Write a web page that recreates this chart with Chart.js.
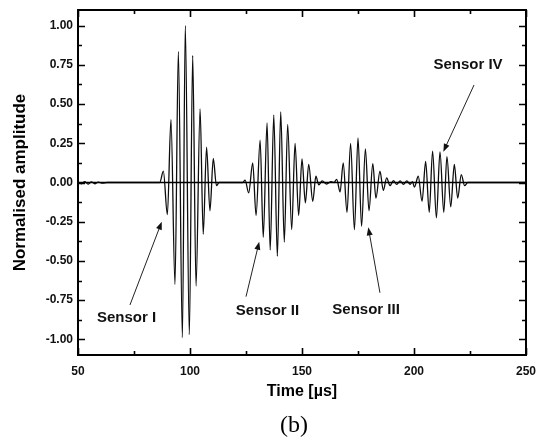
<!DOCTYPE html>
<html><head><meta charset="utf-8">
<script src="https://cdn.jsdelivr.net/npm/chart.js@4.4.0/dist/chart.umd.min.js"></script>
<style>html,body{margin:0;padding:0;background:#fff;} #wrap{width:536px;height:440px;}</style>
</head><body><div id="wrap"><canvas id="c" width="536" height="440"></canvas></div>
<script>
// Time axis (µs) of the recorded signal
const timeUs = [
  50, 51.5, 53, 54.5, 56, 57.5, 59, 61, 63,
  86.5, 88.1, 89.9, 91.5, 93.3, 94.8, 96.6, 97.9, 99.7, 101.2, 102.7, 104.5, 105.9, 107.4, 108.9, 110.4, 111.8, 113,
  123.5, 124.6, 126.2, 128.0, 129.5, 131.3, 132.7, 134.4, 135.8, 137.4, 139.0, 140.5, 142.1, 143.6, 145.4, 146.9, 148.5, 150.0, 151.5, 153.0, 154.8, 156.2, 157.5, 159, 161, 163, 164.3,
  165.5, 167.0, 168.4, 170.1, 171.7, 173.4, 175.0, 176.6, 178.3, 179.9, 181.6, 183.0, 184.8, 186.3, 187.8, 189.3, 190.8, 192.3, 193.8, 195.3, 196.8, 198.3, 199.3,
  200.2, 201.9, 203.6, 205.2, 206.8, 208.3, 210.0, 211.6, 213.3, 214.7, 216.4, 218.0, 219.5, 221.1, 222.6, 224, 250
];
// Normalised amplitude at those times
const amplitude = [
  0, -0.008, 0.006, -0.01, 0.004, -0.008, 0.003, -0.004, 0,
  0, 0.072, -0.204, 0.40, -0.65, 0.836, -0.99, 1.0, -0.97, 0.81, -0.66, 0.47, -0.33, 0.225, -0.18, 0.153, -0.02, 0,
  0, 0.015, -0.066, 0.125, -0.21, 0.27, -0.35, 0.38, -0.43, 0.43, -0.47, 0.45, -0.38, 0.37, -0.30, 0.25, -0.21, 0.15, -0.13, 0.115, -0.12, 0.04, -0.015, 0.01, -0.01, 0.006, 0,
  0.02, -0.06, 0.125, -0.19, 0.25, -0.30, 0.285, -0.28, 0.215, -0.18, 0.12, -0.10, 0.072, -0.05, 0.03, -0.02, 0.012, -0.012, 0.01, -0.012, 0.01, -0.012, 0.006,
  -0.03, 0.04, -0.12, 0.135, -0.19, 0.20, -0.225, 0.195, -0.19, 0.165, -0.155, 0.115, -0.10, 0.05, -0.02, 0, 0
];
const baselineTime = [50, 250];
const baselineAmp = [0, 0];

const xTickValues = [50, 100, 150, 200, 250];
const xMinorTickValues = [75, 125, 175, 225];
const yTickValues = [-1, -0.75, -0.5, -0.25, 0, 0.25, 0.5, 0.75, 1];
const yMinorTickValues = [-0.875, -0.625, -0.375, -0.125, 0.125, 0.375, 0.625, 0.875];

const sensorLabels = ['Sensor I', 'Sensor II', 'Sensor III', 'Sensor IV'];
const captionText = '(b)';

// annotation placement (data units): label centre, arrow tail, arrow head
const annotationLayout = [
  { label: [71.65, -0.866], from: [73.2, -0.781], to: [87.4, -0.25] },
  { label: [134.6, -0.818], from: [125.0, -0.728], to: [130.9, -0.378] },
  { label: [178.6, -0.809], from: [184.8, -0.703], to: [179.6, -0.286] },
  { label: [224.1, 0.749], from: [226.8, 0.622], to: [213.1, 0.196] }
];

const frameAndTicks = {
  id: 'frameAndTicks',
  afterDatasetsDraw(chart) {
    const { ctx, chartArea: a, scales: { x, y } } = chart;
    ctx.save();
    ctx.strokeStyle = '#000';
    ctx.lineWidth = 1.6;
    ctx.beginPath();
    const xt = (v, len) => {
      const px = Math.round(x.getPixelForValue(v)) + 0.5;
      ctx.moveTo(px, a.bottom); ctx.lineTo(px, a.bottom - len);
      ctx.moveTo(px, a.top); ctx.lineTo(px, a.top + len);
    };
    const yt = (v, len) => {
      const py = Math.round(y.getPixelForValue(v)) + 0.5;
      ctx.moveTo(a.left, py); ctx.lineTo(a.left + len, py);
      ctx.moveTo(a.right, py); ctx.lineTo(a.right - len, py);
    };
    xTickValues.forEach(v => xt(v, 7));
    xMinorTickValues.forEach(v => xt(v, 4));
    yTickValues.forEach(v => yt(v, 7));
    yMinorTickValues.forEach(v => yt(v, 4));
    ctx.stroke();
    ctx.lineWidth = 2;
    ctx.strokeRect(a.left, a.top, a.right - a.left, a.bottom - a.top);
    ctx.restore();
  },
  afterDraw(chart) {
    const { ctx, scales: { x, y } } = chart;
    ctx.save();
    ctx.fillStyle = '#111';
    ctx.strokeStyle = '#222';
    ctx.lineWidth = 1;
    ctx.font = 'bold 15px "Liberation Sans", Arial, sans-serif';
    ctx.textAlign = 'center';
    ctx.textBaseline = 'middle';
    annotationLayout.forEach((an, i) => {
      ctx.fillText(sensorLabels[i], x.getPixelForValue(an.label[0]), y.getPixelForValue(an.label[1]));
      const x1 = x.getPixelForValue(an.from[0]), y1 = y.getPixelForValue(an.from[1]);
      const x2 = x.getPixelForValue(an.to[0]), y2 = y.getPixelForValue(an.to[1]);
      const ang = Math.atan2(y2 - y1, x2 - x1);
      const hl = 8, hw = 3;
      ctx.beginPath();
      ctx.moveTo(x1, y1);
      ctx.lineTo(x2 - hl * 0.7 * Math.cos(ang), y2 - hl * 0.7 * Math.sin(ang));
      ctx.stroke();
      ctx.beginPath();
      ctx.moveTo(x2, y2);
      ctx.lineTo(x2 - hl * Math.cos(ang) + hw * Math.sin(ang), y2 - hl * Math.sin(ang) - hw * Math.cos(ang));
      ctx.lineTo(x2 - hl * Math.cos(ang) - hw * Math.sin(ang), y2 - hl * Math.sin(ang) + hw * Math.cos(ang));
      ctx.closePath();
      ctx.fill();
    });
    ctx.fillStyle = '#000';
    ctx.font = '24px "Liberation Serif", "Times New Roman", serif';
    ctx.fillText(captionText, 294, 426);
    ctx.restore();
  }
};

new Chart(document.getElementById('c'), {
  type: 'line',
  data: {
    datasets: [
      {
        label: 'Baseline',
        data: baselineTime.map((t, i) => ({ x: t, y: baselineAmp[i] })),
        borderColor: '#000',
        borderWidth: 1.4,
        pointRadius: 0
      },
      {
        label: 'Signal',
        data: timeUs.map((t, i) => ({ x: t, y: amplitude[i] })),
        borderColor: '#0d0d0d',
        borderWidth: 1.3,
        pointRadius: 0,
        cubicInterpolationMode: 'monotone'
      }
    ]
  },
  options: {
    responsive: false,
    animation: false,
    devicePixelRatio: 1,
    layout: { padding: { top: 10, right: 10, left: 0, bottom: 0 } },
    plugins: { legend: { display: false }, tooltip: { enabled: false } },
    scales: {
      x: {
        type: 'linear', min: 50, max: 250, position: 'bottom',
        afterBuildTicks: s => { s.ticks = xTickValues.map(v => ({ value: v })); },
        afterFit: s => { s.height = 85; s.paddingLeft = 0; s.paddingRight = 0; },
        grid: { display: false, drawTicks: false },
        border: { display: false },
        ticks: { padding: 9, color: '#111', font: { family: '"Liberation Sans", Arial, sans-serif', size: 12, weight: 'bold' }, maxRotation: 0 },
        title: { display: true, text: 'Time [µs]', color: '#000', padding: { top: 0, bottom: 39 }, font: { family: '"Liberation Sans", Arial, sans-serif', size: 16, weight: 'bold' } }
      },
      y: {
        type: 'linear', min: -1.1, max: 1.1, position: 'left',
        afterBuildTicks: s => { s.ticks = yTickValues.map(v => ({ value: v })); },
        afterFit: s => { s.width = 78; s.paddingTop = 0; s.paddingBottom = 0; },
        grid: { display: false, drawTicks: false },
        border: { display: false },
        ticks: { padding: 5, color: '#111', callback: v => Number(v).toFixed(2), font: { family: '"Liberation Sans", Arial, sans-serif', size: 12, weight: 'bold' } },
        title: { display: true, text: 'Normalised amplitude', color: '#000', padding: { top: 10, bottom: 0 }, font: { family: '"Liberation Sans", Arial, sans-serif', size: 17, weight: 'bold' } }
      }
    }
  },
  plugins: [frameAndTicks]
});
</script>
</body></html>
